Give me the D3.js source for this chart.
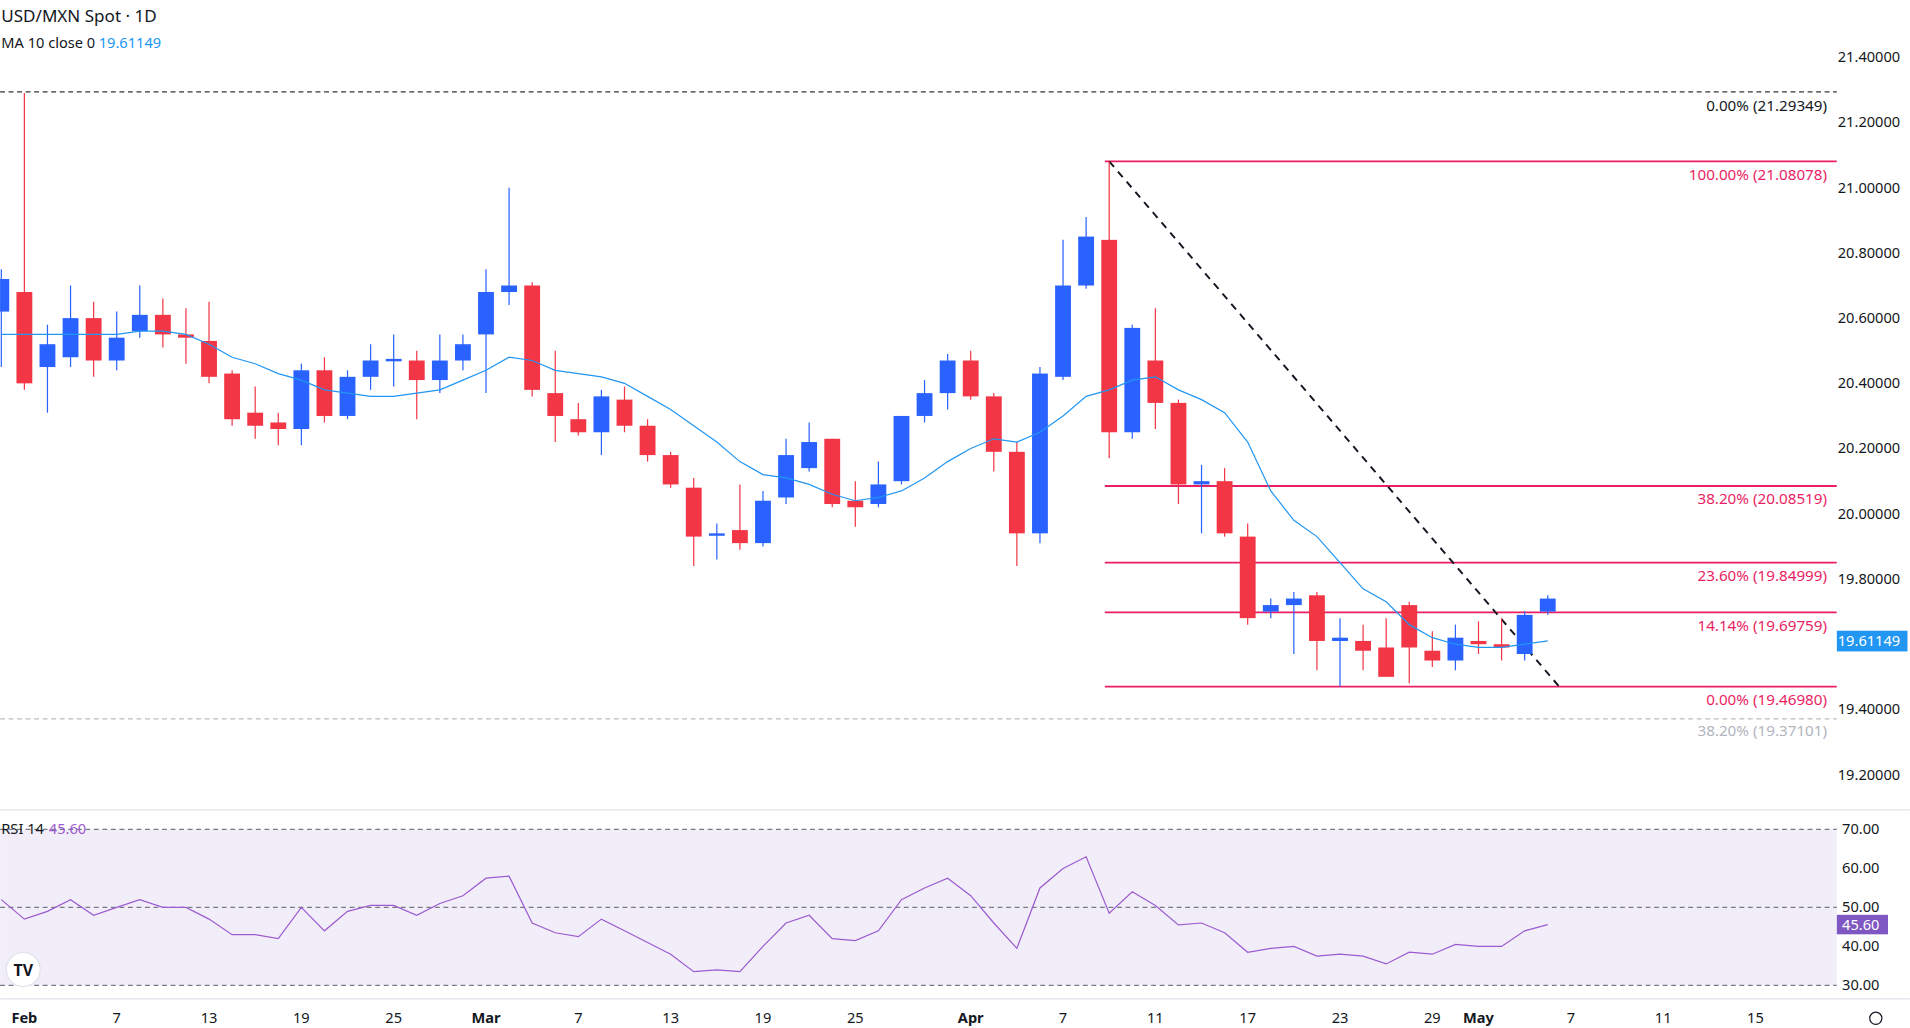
<!DOCTYPE html><html><head><meta charset="utf-8"><script src="https://cdn.jsdelivr.net/npm/d3@7"></script>
<style>body{margin:0;background:#fff;font-family:"Noto Sans",Roboto,sans-serif}</style></head><body><svg id="c"></svg><script>
const opens=[20.62,20.68,20.45,20.48,20.60,20.47,20.56,20.61,20.55,20.53,20.43,20.31,20.28,20.26,20.44,20.30,20.42,20.47,20.47,20.41,20.47,20.55,20.68,20.70,20.37,20.29,20.25,20.35,20.27,20.18,20.08,19.94,19.95,19.91,20.05,20.14,20.23,20.04,20.03,20.10,20.30,20.37,20.47,20.36,20.19,19.94,20.42,20.70,20.84,20.25,20.47,20.34,20.09,20.10,19.93,19.70,19.72,19.75,19.61,19.61,19.59,19.72,19.58,19.55,19.61,19.60,19.57,19.70];
const closes=[20.72,20.40,20.52,20.60,20.47,20.54,20.61,20.55,20.54,20.42,20.29,20.27,20.26,20.44,20.30,20.42,20.47,20.475,20.41,20.47,20.52,20.68,20.70,20.38,20.30,20.25,20.36,20.27,20.18,20.09,19.93,19.94,19.91,20.04,20.18,20.22,20.03,20.02,20.09,20.30,20.37,20.47,20.36,20.19,19.94,20.43,20.70,20.85,20.25,20.57,20.34,20.09,20.10,19.94,19.68,19.72,19.74,19.61,19.62,19.58,19.50,19.59,19.55,19.62,19.60,19.59,19.69,19.74];
const highs=[20.75,21.29,20.58,20.70,20.65,20.62,20.70,20.66,20.63,20.65,20.44,20.39,20.31,20.46,20.48,20.44,20.52,20.55,20.50,20.55,20.55,20.75,21.00,20.71,20.50,20.34,20.38,20.39,20.29,20.19,20.11,19.97,20.09,20.07,20.23,20.28,20.23,20.10,20.16,20.30,20.41,20.49,20.50,20.37,20.22,20.45,20.84,20.91,21.08,20.58,20.63,20.35,20.15,20.14,19.97,19.74,19.76,19.76,19.68,19.66,19.68,19.73,19.64,19.66,19.67,19.68,19.70,19.75];
const lows=[20.45,20.38,20.31,20.45,20.42,20.44,20.54,20.51,20.46,20.40,20.27,20.23,20.21,20.21,20.28,20.29,20.38,20.39,20.29,20.37,20.44,20.37,20.64,20.36,20.22,20.24,20.18,20.25,20.16,20.08,19.84,19.86,19.89,19.90,20.03,20.13,20.02,19.96,20.02,20.09,20.28,20.32,20.35,20.13,19.84,19.91,20.41,20.69,20.17,20.23,20.26,20.03,19.94,19.93,19.66,19.68,19.57,19.52,19.47,19.52,19.50,19.48,19.53,19.52,19.57,19.55,19.55,19.69];
const ma10=[20.55,20.55,20.55,20.55,20.55,20.55,20.56,20.56,20.55,20.52,20.48,20.46,20.43,20.41,20.38,20.37,20.36,20.36,20.37,20.38,20.41,20.44,20.48,20.47,20.44,20.43,20.42,20.40,20.36,20.32,20.27,20.22,20.16,20.12,20.11,20.09,20.06,20.04,20.05,20.07,20.11,20.16,20.20,20.23,20.22,20.25,20.30,20.36,20.38,20.41,20.42,20.38,20.35,20.31,20.22,20.07,19.98,19.93,19.85,19.77,19.73,19.66,19.62,19.60,19.59,19.59,19.60,19.61];
const rsi=[52,47,49,52,48,50,52,50,50,47,43,43,42,50,44,49,50.5,50.5,48,51,53,57.5,58,46,43.5,42.5,47,44,41,38,33.5,34,33.5,40,46,48,42,41.5,44,52,55,57.5,53,46,39.5,55,60,63,48.5,54,50.5,45.5,46,43.5,38.5,39.5,40,37.5,38,37.5,35.5,38.5,38,40.5,40,40,44,45.6];
const tickIdx=[1,5,9,13,17,21,25,29,33,37,42,46,50,54,58,62,64,68,72,76];
const tickLabels=["Feb","7","13","19","25","Mar","7","13","19","25","Apr","7","11","17","23","29","May","7","11","15"];
const priceTicks=[21.4,21.2,21.0,20.8,20.6,20.4,20.2,20.0,19.8,19.6,19.4,19.2];
const fibLevels=[21.08078,20.08519,19.84999,19.69759,19.4698];
const fibLabels=["100.00% (21.08078)","38.20% (20.08519)","23.60% (19.84999)","14.14% (19.69759)","0.00% (19.46980)"];
const rsiTicks=[70,60,50,40,30];

const W=1568,H=844;
const svg=d3.select("#c").attr("width",1910).attr("height",1028).attr("viewBox",`0 0 ${W} ${H}`);
const x=d3.scaleLinear().domain([0,1]).range([1,19.95]);
const y=d3.scaleLinear().domain([21.4,19.2]).range([47,636]);
const yr=d3.scaleLinear().domain([70,30]).range([681,809]);
const up="#2962ff",dn="#f23645",pink="#e91e63";
svg.append("defs").append("clipPath").attr("id","cp").append("rect").attr("x",0).attr("y",0).attr("width",1508).attr("height",H);
const g=svg.append("g").attr("clip-path","url(#cp)");
g.append("line").attr("x1",0).attr("x2",1508).attr("y1",y(21.29349)).attr("y2",y(21.29349)).attr("stroke","#333").attr("stroke-dasharray","4,3");
g.append("line").attr("x1",0).attr("x2",1508).attr("y1",y(19.37101)).attr("y2",y(19.37101)).attr("stroke","#bbb").attr("stroke-dasharray","4,3");
svg.append("text").attr("x",1500).attr("y",y(21.29349)+16).attr("text-anchor","end").attr("font-size",12.5).attr("fill","#131722").text("0.00% (21.29349)");
svg.append("text").attr("x",1500).attr("y",y(19.37101)+14).attr("text-anchor","end").attr("font-size",12.5).attr("fill","#b2b5be").text("38.20% (19.37101)");
fibLevels.forEach((v,i)=>{g.append("line").attr("x1",907).attr("x2",1508).attr("y1",y(v)).attr("y2",y(v)).attr("stroke",pink).attr("stroke-width",1.5);
svg.append("text").attr("x",1500).attr("y",y(v)+15).attr("text-anchor","end").attr("font-size",12.5).attr("fill",pink).text(fibLabels[i]);});
g.append("line").attr("x1",x(48)).attr("y1",y(21.08078)).attr("x2",x(67.5)).attr("y2",y(19.4698)).attr("stroke","#131722").attr("stroke-width",1.6).attr("stroke-dasharray","6,5");
opens.forEach((o,i)=>{const c=closes[i],col=c>=o?up:dn,cx=x(i);
g.append("line").attr("x1",cx).attr("x2",cx).attr("y1",y(highs[i])).attr("y2",y(lows[i])).attr("stroke",col);
const t=y(Math.max(o,c)),b=y(Math.min(o,c));
g.append("rect").attr("x",cx-6.5).attr("width",13).attr("y",t).attr("height",Math.max(2,b-t)).attr("fill",col);});
g.append("path").datum(ma10).attr("d",d3.line().x((d,i)=>x(i)).y(d=>y(d))).attr("fill","none").attr("stroke","#2196f3").attr("stroke-width",1);
priceTicks.forEach(v=>svg.append("text").attr("x",1560).attr("y",y(v)+4).attr("text-anchor","end").attr("font-size",12).attr("fill","#131722").text(v.toFixed(5)));
svg.append("rect").attr("x",1508).attr("y",y(19.61149)-8).attr("width",58).attr("height",17).attr("fill","#2196f3");
svg.append("text").attr("x",1560).attr("y",y(19.61149)+4.5).attr("text-anchor","end").attr("font-size",12).attr("fill","#fff").text("19.61149");
svg.append("text").attr("x",1).attr("y",18).attr("font-size",14).attr("fill","#131722").text("USD/MXN Spot · 1D");
svg.append("text").attr("x",1).attr("y",39).attr("font-size",12).attr("fill","#131722").text("MA 10 close 0");
svg.append("text").attr("x",81).attr("y",39).attr("font-size",12).attr("fill","#2196f3").text("19.61149");
svg.append("line").attr("x1",0).attr("x2",W).attr("y1",665).attr("y2",665).attr("stroke","#e0e3eb");
svg.append("rect").attr("x",0).attr("y",yr(70)).attr("width",1508).attr("height",yr(30)-yr(70)).attr("fill","#7e57c2").attr("opacity",0.1);
[70,50,30].forEach(v=>svg.append("line").attr("x1",0).attr("x2",1508).attr("y1",yr(v)).attr("y2",yr(v)).attr("stroke","#787b86").attr("stroke-dasharray","4,3"));
svg.append("path").datum(rsi).attr("d",d3.line().x((d,i)=>x(i)).y(d=>yr(d))).attr("fill","none").attr("stroke","#9c5bd0").attr("stroke-width",1);
rsiTicks.forEach(v=>svg.append("text").attr("x",1543).attr("y",yr(v)+4).attr("text-anchor","end").attr("font-size",12).attr("fill","#131722").text(v.toFixed(2)));
svg.append("rect").attr("x",1508).attr("y",yr(45.6)-8).attr("width",42).attr("height",16).attr("fill","#7e57c2");
svg.append("text").attr("x",1543).attr("y",yr(45.6)+4.5).attr("text-anchor","end").attr("font-size",12).attr("fill","#fff").text("45.60");
svg.append("text").attr("x",1).attr("y",685).attr("font-size",12).attr("fill","#131722").text("RSI 14");
svg.append("text").attr("x",40).attr("y",685).attr("font-size",12).attr("fill","#9c5bd0").text("45.60");
svg.append("circle").attr("cx",19).attr("cy",796).attr("r",14).attr("fill","#fff").attr("stroke","#e0e3eb");
svg.append("text").attr("x",19).attr("y",801).attr("text-anchor","middle").attr("font-size",13).attr("font-weight","bold").attr("fill","#131722").text("TV");
svg.append("line").attr("x1",0).attr("x2",W).attr("y1",820).attr("y2",820).attr("stroke","#e0e3eb");
tickIdx.forEach((t,i)=>{const lb=tickLabels[i],bold=isNaN(+lb);
svg.append("text").attr("x",x(t)).attr("y",840).attr("text-anchor","middle").attr("font-size",12).attr("font-weight",bold?"bold":"normal").attr("fill","#131722").text(lb);});
svg.append("circle").attr("cx",1540).attr("cy",836).attr("r",5).attr("fill","none").attr("stroke","#131722");
</script></body></html>
